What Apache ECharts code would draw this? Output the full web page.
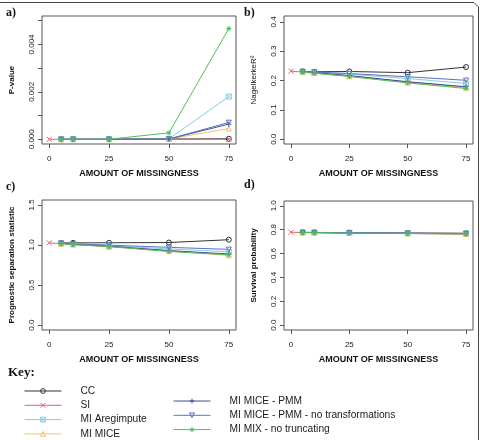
<!DOCTYPE html>
<html>
<head>
<meta charset="utf-8">
<script src="https://cdn.jsdelivr.net/npm/echarts@6/dist/echarts.min.js"></script>
<style>
  html, body { margin: 0; padding: 0; background: #fff; }
  #chart { width: 480px; height: 440px; }
</style>
</head>
<body>
<div id="chart"></div>
<script>
// amount of missingness (%)
const missingness = [0, 5, 10, 25, 50, 75];
const methods = ['CC', 'SI', 'MI Aregimpute', 'MI MICE', 'MI MICE - PMM', 'MI MICE - PMM - no transformations', 'MI MIX - no truncating'];

// one row per method, same order as methods; null = not plotted
const pValues = [
  [null, 0, 0, 0, 0.00001, 0.00002],
  [0, 0, 0, 0, 0, 0],
  [null, 0, 0, 0, 0.00002, 0.0018],
  [null, 0, 0, 0, 0.00001, 0.00045],
  [null, 0, 0, 0, 0.00001, 0.00064],
  [null, 0, 0, 0, 0.00001, 0.00071],
  [null, 0, 0, 0, 0.00027, 0.00467]
];
const nagelkerke = [
  [null, 0.231, 0.230, 0.231, 0.227, 0.246],
  [0.232, 0.229, 0.226, 0.216, 0.195, 0.177],
  [null, 0.230, 0.228, 0.222, 0.207, 0.190],
  [null, 0.229, 0.226, 0.215, 0.193, 0.176],
  [null, 0.230, 0.227, 0.217, 0.196, 0.179],
  [null, 0.231, 0.229, 0.224, 0.213, 0.201],
  [null, 0.229, 0.225, 0.214, 0.192, 0.173]
];
const separation = [
  [null, 1.025, 1.026, 1.027, 1.030, 1.065],
  [1.027, 1.015, 1.005, 0.980, 0.930, 0.875],
  [null, 1.020, 1.012, 0.990, 0.950, 0.915],
  [null, 1.015, 1.004, 0.978, 0.925, 0.870],
  [null, 1.018, 1.008, 0.985, 0.928, 0.888],
  [null, 1.022, 1.015, 0.998, 0.970, 0.945],
  [null, 1.016, 1.005, 0.980, 0.918, 0.878]
];
const survival = [
  [null, 0.777, 0.777, 0.775, 0.772, 0.770],
  [0.779, 0.776, 0.775, 0.772, 0.768, 0.764],
  [null, 0.777, 0.776, 0.774, 0.770, 0.767],
  [null, 0.776, 0.775, 0.772, 0.767, 0.763],
  [null, 0.777, 0.776, 0.773, 0.769, 0.766],
  [null, 0.777, 0.776, 0.774, 0.771, 0.768],
  [null, 0.776, 0.775, 0.772, 0.768, 0.764]
];

const xTicks = [0, 25, 50, 75];
const pTicks = [0, 0.001, 0.002, 0.003, 0.004, 0.005];
const pLabels = [0, 0.002, 0.004];
const r2Ticks = [0, 0.1, 0.2, 0.3, 0.4];
const sepTicks = [0, 0.5, 1, 1.5];
const survTicks = [0, 0.2, 0.4, 0.6, 0.8, 1];

const colors = ['#333333', '#e8606e', '#86cde0', '#f2c26a', '#3e4f9c', '#5a72c0', '#4fbf5a'];
const symbols = [
  'circle',
  'path://M0,0L10,10M0,10L10,0',
  'path://M0,0H10V10H0ZM0,0L10,10M0,10L10,0',
  'triangle',
  'path://M5,0V10M0,5H10',
  'path://M0,0H10L5,9Z',
  'path://M5,0V10M0,5H10M1.5,1.5L8.5,8.5M1.5,8.5L8.5,1.5'
];

const font = 'Liberation Sans, Arial, sans-serif';
const chart = echarts.init(document.getElementById('chart'));

const panels = [
  { rows: pValues, grid: { left: 42, right: 244, top: 16, bottom: 296 }, min: -0.0002, max: 0.0052,
    ticks: pTicks, labels: pLabels, fmt: v => v.toFixed(3), name: 'P-value', bold: true },
  { rows: nagelkerke, grid: { left: 284, right: 7, top: 16, bottom: 296 }, min: -0.016, max: 0.42,
    ticks: r2Ticks, labels: r2Ticks, fmt: v => v.toFixed(1), name: 'NagelkerkeR²', bold: false },
  { rows: separation, grid: { left: 42, right: 244, top: 200, bottom: 110 }, min: -0.06, max: 1.56,
    ticks: sepTicks, labels: sepTicks, fmt: v => v.toFixed(1), name: 'Prognostic separation statistic', bold: true },
  { rows: survival, grid: { left: 284, right: 7, top: 201, bottom: 110 }, min: -0.04, max: 1.04,
    ticks: survTicks, labels: survTicks, fmt: v => v.toFixed(1), name: 'Survival probability', bold: true }
];

const grids = [], xAxes = [], yAxes = [], series = [];
panels.forEach((p, i) => {
  grids.push(Object.assign({ show: true, borderColor: '#555', borderWidth: 1, backgroundColor: 'transparent' }, p.grid));
  xAxes.push({
    type: 'value', gridIndex: i, min: -3, max: 78,
    name: 'AMOUNT OF MISSINGNESS', nameLocation: 'middle', nameGap: 25,
    nameTextStyle: { fontFamily: font, fontWeight: 'bold', fontSize: 9, color: '#111' },
    axisLine: { show: false, onZero: false }, splitLine: { show: false },
    axisTick: { show: true, length: 4, customValues: xTicks, lineStyle: { color: '#555' } },
    axisLabel: { customValues: xTicks, margin: 11, fontFamily: font, fontSize: 8, color: '#222' }
  });
  yAxes.push({
    type: 'value', gridIndex: i, min: p.min, max: p.max,
    name: p.name, nameLocation: 'middle', nameGap: 26, nameRotate: 90,
    nameTextStyle: { fontFamily: font, fontWeight: p.bold ? 'bold' : 'normal', fontSize: 8, color: '#111' },
    axisLine: { show: false, onZero: false }, splitLine: { show: false },
    axisTick: { show: true, length: 4, customValues: p.ticks, lineStyle: { color: '#555' } },
    axisLabel: { customValues: p.labels, rotate: 90, margin: 6, fontFamily: font, fontSize: 8, color: '#222', formatter: p.fmt }
  });
  p.rows.forEach((row, m) => {
    const pts = [];
    row.forEach((v, k) => { if (v !== null) pts.push([missingness[k], v]); });
    series.push({
      name: methods[m], type: 'line', xAxisIndex: i, yAxisIndex: i, data: pts,
      symbol: symbols[m], symbolSize: 5, symbolKeepAspect: true, showAllSymbol: true,
      lineStyle: { color: colors[m], width: 1 },
      itemStyle: { color: 'rgba(255,255,255,0)', borderColor: colors[m], borderWidth: 1 },
      emphasis: { disabled: true }, animation: false
    });
  });
});

const legendBase = {
  orient: 'vertical', itemWidth: 37, itemHeight: 6, itemGap: 2.3, selectedMode: false, height: 120,
  itemStyle: { color: 'rgba(255,255,255,0)', borderWidth: 1 },
  lineStyle: { width: 1 },
  textStyle: { fontFamily: font, fontSize: 10.2, color: '#222', lineHeight: 12, padding: [0, 0, 0, 14] }
};

chart.setOption({
  backgroundColor: '#fff',
  animation: false,
  grid: grids,
  xAxis: xAxes,
  yAxis: yAxes,
  series: series,
  legend: [
    Object.assign({ left: 19, top: 380, data: methods.slice(0, 4) }, legendBase),
    Object.assign({ left: 168, top: 390, data: methods.slice(4) }, legendBase)
  ],
  graphic: [
    { type: 'polyline', shape: { points: [[0, 2.5], [474, 2.5], [478.5, 7], [478.5, 440]] }, style: { stroke: '#444', fill: null, lineWidth: 1 } },
    { type: 'text', left: 6, top: 7, style: { text: 'a)', font: 'bold 12px Liberation Serif', fill: '#111' } },
    { type: 'text', left: 244, top: 7, style: { text: 'b)', font: 'bold 12px Liberation Serif', fill: '#111' } },
    { type: 'text', left: 6, top: 181, style: { text: 'c)', font: 'bold 12px Liberation Serif', fill: '#111' } },
    { type: 'text', left: 244, top: 179, style: { text: 'd)', font: 'bold 12px Liberation Serif', fill: '#111' } },
    { type: 'text', left: 8, top: 366, style: { text: 'Key:', font: 'bold 13px Liberation Serif', fill: '#111' } }
  ]
});
</script>
</body>
</html>
